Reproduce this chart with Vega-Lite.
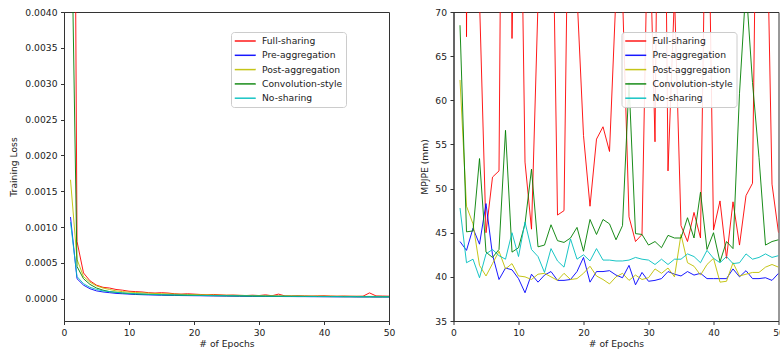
{
"$schema": "https://vega.github.io/schema/vega-lite/v6.json",
"padding": {"left": 9, "top": 7, "right": 0, "bottom": 0},
"spacing": 23.5,
"config": {
  "font": "DejaVu Sans",
  "view": {"stroke": "#333", "strokeWidth": 1},
  "axis": {"grid": false, "labelFont": "DejaVu Sans", "labelFontSize": 9.2, "labelColor": "#222", "titleFont": "DejaVu Sans", "titleFontSize": 9.2, "titleFontWeight": "normal", "titleColor": "#222", "tickSize": 3.5, "tickColor": "#333", "domainColor": "#333", "labelPadding": 3.5, "labelFlush": false, "labelOverlap": false},
  "legend": {"labelFont": "DejaVu Sans", "labelFontSize": 9.2, "labelColor": "#222", "symbolType": "M-1,0H3", "symbolSize": 110, "symbolStrokeWidth": 1.5, "labelOffset": 16, "rowPadding": 2.3, "padding": 3, "fillColor": "rgba(255,255,255,0.88)", "strokeColor": "#cccccc", "cornerRadius": 3}
},
"datasets": {
"loss": [
{"epoch":1,"Full-sharing":0.017,"Pre-aggregation":0.00114,"Post-aggregation":0.00166,"Convolution-style":0.0062,"No-sharing":0.00107},
{"epoch":2,"Full-sharing":0.0008,"Pre-aggregation":0.00028,"Post-aggregation":0.00055,"Convolution-style":0.00045,"No-sharing":0.00031},
{"epoch":3,"Full-sharing":0.00036,"Pre-aggregation":0.00019,"Post-aggregation":0.00031,"Convolution-style":0.00028,"No-sharing":0.00021},
{"epoch":4,"Full-sharing":0.00025,"Pre-aggregation":0.00014,"Post-aggregation":0.00023,"Convolution-style":0.0002,"No-sharing":0.00016},
{"epoch":5,"Full-sharing":0.00019,"Pre-aggregation":0.00011,"Post-aggregation":0.00018,"Convolution-style":0.00015,"No-sharing":0.00013},
{"epoch":6,"Full-sharing":0.00016,"Pre-aggregation":0.000095,"Post-aggregation":0.00015,"Convolution-style":0.00012,"No-sharing":0.00011},
{"epoch":7,"Full-sharing":0.00015,"Pre-aggregation":0.000085,"Post-aggregation":0.00013,"Convolution-style":0.0001,"No-sharing":0.0001},
{"epoch":8,"Full-sharing":0.00013,"Pre-aggregation":0.000075,"Post-aggregation":0.00011,"Convolution-style":0.00009,"No-sharing":0.00009},
{"epoch":9,"Full-sharing":0.00012,"Pre-aggregation":0.00007,"Post-aggregation":0.0001,"Convolution-style":0.00008,"No-sharing":0.000082},
{"epoch":10,"Full-sharing":0.000105,"Pre-aggregation":0.000065,"Post-aggregation":0.000092,"Convolution-style":0.000072,"No-sharing":0.000075},
{"epoch":11,"Full-sharing":0.0001,"Pre-aggregation":0.00006,"Post-aggregation":0.000088,"Convolution-style":0.000068,"No-sharing":0.00007},
{"epoch":12,"Full-sharing":0.000095,"Pre-aggregation":0.000057,"Post-aggregation":0.000082,"Convolution-style":0.000064,"No-sharing":0.000066},
{"epoch":13,"Full-sharing":0.000085,"Pre-aggregation":0.000054,"Post-aggregation":0.000078,"Convolution-style":0.00006,"No-sharing":0.000062},
{"epoch":14,"Full-sharing":0.00008,"Pre-aggregation":0.000052,"Post-aggregation":0.000074,"Convolution-style":0.000058,"No-sharing":0.00006},
{"epoch":15,"Full-sharing":0.000085,"Pre-aggregation":0.00005,"Post-aggregation":0.00007,"Convolution-style":0.000056,"No-sharing":0.000057},
{"epoch":16,"Full-sharing":0.00008,"Pre-aggregation":0.000048,"Post-aggregation":0.000068,"Convolution-style":0.000054,"No-sharing":0.000055},
{"epoch":17,"Full-sharing":0.00007,"Pre-aggregation":0.000047,"Post-aggregation":0.000065,"Convolution-style":0.000052,"No-sharing":0.000053},
{"epoch":18,"Full-sharing":0.000065,"Pre-aggregation":0.000045,"Post-aggregation":0.000062,"Convolution-style":0.00005,"No-sharing":0.000051},
{"epoch":19,"Full-sharing":0.00007,"Pre-aggregation":0.000044,"Post-aggregation":0.00006,"Convolution-style":0.000048,"No-sharing":0.00005},
{"epoch":20,"Full-sharing":0.000065,"Pre-aggregation":0.000043,"Post-aggregation":0.000058,"Convolution-style":0.000047,"No-sharing":0.000048},
{"epoch":21,"Full-sharing":0.00006,"Pre-aggregation":0.000042,"Post-aggregation":0.000056,"Convolution-style":0.000046,"No-sharing":0.000047},
{"epoch":22,"Full-sharing":0.000055,"Pre-aggregation":0.000041,"Post-aggregation":0.000054,"Convolution-style":0.000044,"No-sharing":0.000046},
{"epoch":23,"Full-sharing":0.00006,"Pre-aggregation":0.00004,"Post-aggregation":0.000052,"Convolution-style":0.000043,"No-sharing":0.000045},
{"epoch":24,"Full-sharing":0.000055,"Pre-aggregation":0.000039,"Post-aggregation":0.00005,"Convolution-style":0.000042,"No-sharing":0.000044},
{"epoch":25,"Full-sharing":0.00005,"Pre-aggregation":0.000038,"Post-aggregation":0.000049,"Convolution-style":0.000041,"No-sharing":0.000043},
{"epoch":26,"Full-sharing":0.000052,"Pre-aggregation":0.000037,"Post-aggregation":0.000048,"Convolution-style":0.00004,"No-sharing":0.000042},
{"epoch":27,"Full-sharing":0.000048,"Pre-aggregation":0.000036,"Post-aggregation":0.000047,"Convolution-style":0.000039,"No-sharing":0.000041},
{"epoch":28,"Full-sharing":0.000045,"Pre-aggregation":0.000035,"Post-aggregation":0.000046,"Convolution-style":0.000038,"No-sharing":0.00004},
{"epoch":29,"Full-sharing":0.00005,"Pre-aggregation":0.000034,"Post-aggregation":0.000045,"Convolution-style":0.000037,"No-sharing":0.000039},
{"epoch":30,"Full-sharing":0.000045,"Pre-aggregation":0.000034,"Post-aggregation":0.000044,"Convolution-style":0.000036,"No-sharing":0.000038},
{"epoch":31,"Full-sharing":0.000055,"Pre-aggregation":0.000033,"Post-aggregation":0.000043,"Convolution-style":0.000036,"No-sharing":0.000037},
{"epoch":32,"Full-sharing":0.000042,"Pre-aggregation":0.000032,"Post-aggregation":0.000042,"Convolution-style":0.000035,"No-sharing":0.000036},
{"epoch":33,"Full-sharing":0.000065,"Pre-aggregation":0.000032,"Post-aggregation":0.000041,"Convolution-style":0.000034,"No-sharing":0.000036},
{"epoch":34,"Full-sharing":0.00004,"Pre-aggregation":0.000031,"Post-aggregation":0.00004,"Convolution-style":0.000034,"No-sharing":0.000035},
{"epoch":35,"Full-sharing":0.00004,"Pre-aggregation":0.000031,"Post-aggregation":0.00004,"Convolution-style":0.000033,"No-sharing":0.000034},
{"epoch":36,"Full-sharing":0.000042,"Pre-aggregation":0.00003,"Post-aggregation":0.000039,"Convolution-style":0.000033,"No-sharing":0.000034},
{"epoch":37,"Full-sharing":0.00004,"Pre-aggregation":0.00003,"Post-aggregation":0.000038,"Convolution-style":0.000032,"No-sharing":0.000033},
{"epoch":38,"Full-sharing":0.000038,"Pre-aggregation":0.000029,"Post-aggregation":0.000037,"Convolution-style":0.000032,"No-sharing":0.000033},
{"epoch":39,"Full-sharing":0.00004,"Pre-aggregation":0.000029,"Post-aggregation":0.000037,"Convolution-style":0.000031,"No-sharing":0.000032},
{"epoch":40,"Full-sharing":0.000042,"Pre-aggregation":0.000028,"Post-aggregation":0.000036,"Convolution-style":0.000031,"No-sharing":0.000032},
{"epoch":41,"Full-sharing":0.000038,"Pre-aggregation":0.000028,"Post-aggregation":0.000036,"Convolution-style":0.00003,"No-sharing":0.000031},
{"epoch":42,"Full-sharing":0.000036,"Pre-aggregation":0.000027,"Post-aggregation":0.000035,"Convolution-style":0.00003,"No-sharing":0.000031},
{"epoch":43,"Full-sharing":0.000038,"Pre-aggregation":0.000027,"Post-aggregation":0.000035,"Convolution-style":0.000029,"No-sharing":0.00003},
{"epoch":44,"Full-sharing":0.000036,"Pre-aggregation":0.000027,"Post-aggregation":0.000034,"Convolution-style":0.000029,"No-sharing":0.00003},
{"epoch":45,"Full-sharing":0.000035,"Pre-aggregation":0.000026,"Post-aggregation":0.000034,"Convolution-style":0.000028,"No-sharing":0.00003},
{"epoch":46,"Full-sharing":0.000036,"Pre-aggregation":0.000026,"Post-aggregation":0.000033,"Convolution-style":0.000028,"No-sharing":0.000029},
{"epoch":47,"Full-sharing":0.000082,"Pre-aggregation":0.000026,"Post-aggregation":0.000033,"Convolution-style":0.000028,"No-sharing":0.000029},
{"epoch":48,"Full-sharing":0.00004,"Pre-aggregation":0.000025,"Post-aggregation":0.000033,"Convolution-style":0.000027,"No-sharing":0.000029},
{"epoch":49,"Full-sharing":0.000038,"Pre-aggregation":0.000025,"Post-aggregation":0.000032,"Convolution-style":0.000027,"No-sharing":0.000028},
{"epoch":50,"Full-sharing":0.000036,"Pre-aggregation":0.000025,"Post-aggregation":0.000032,"Convolution-style":0.000027,"No-sharing":0.000028}
],
"mpjpe": [
{"epoch":1,"Full-sharing":400,"Pre-aggregation":44.0,"Post-aggregation":62.3,"Convolution-style":68.5,"No-sharing":47.8},
{"epoch":2,"Full-sharing":67.2,"Pre-aggregation":43.0,"Post-aggregation":48.0,"Convolution-style":45.1,"No-sharing":41.6},
{"epoch":3,"Full-sharing":200,"Pre-aggregation":45.5,"Post-aggregation":46.0,"Convolution-style":45.2,"No-sharing":42.0},
{"epoch":4,"Full-sharing":71.5,"Pre-aggregation":43.7,"Post-aggregation":41.3,"Convolution-style":53.4,"No-sharing":39.9},
{"epoch":5,"Full-sharing":45.0,"Pre-aggregation":48.3,"Post-aggregation":40.1,"Convolution-style":42.8,"No-sharing":42.6},
{"epoch":6,"Full-sharing":51.3,"Pre-aggregation":42.5,"Post-aggregation":41.5,"Convolution-style":42.2,"No-sharing":43.1},
{"epoch":7,"Full-sharing":52.0,"Pre-aggregation":39.7,"Post-aggregation":42.9,"Convolution-style":43.1,"No-sharing":42.4},
{"epoch":8,"Full-sharing":150,"Pre-aggregation":41.0,"Post-aggregation":40.9,"Convolution-style":56.6,"No-sharing":42.0},
{"epoch":9,"Full-sharing":67.0,"Pre-aggregation":40.8,"Post-aggregation":41.5,"Convolution-style":42.8,"No-sharing":45.0},
{"epoch":10,"Full-sharing":105,"Pre-aggregation":39.8,"Post-aggregation":40.1,"Convolution-style":43.3,"No-sharing":42.3},
{"epoch":11,"Full-sharing":53.0,"Pre-aggregation":38.2,"Post-aggregation":40.0,"Convolution-style":46.0,"No-sharing":46.2},
{"epoch":12,"Full-sharing":45.4,"Pre-aggregation":40.3,"Post-aggregation":39.7,"Convolution-style":52.2,"No-sharing":43.1},
{"epoch":13,"Full-sharing":71,"Pre-aggregation":39.4,"Post-aggregation":40.3,"Convolution-style":43.4,"No-sharing":42.3},
{"epoch":14,"Full-sharing":110,"Pre-aggregation":40.2,"Post-aggregation":40.4,"Convolution-style":43.6,"No-sharing":40.5},
{"epoch":15,"Full-sharing":95,"Pre-aggregation":40.6,"Post-aggregation":40.0,"Convolution-style":45.9,"No-sharing":43.2},
{"epoch":16,"Full-sharing":47.0,"Pre-aggregation":39.6,"Post-aggregation":39.6,"Convolution-style":44.1,"No-sharing":41.8},
{"epoch":17,"Full-sharing":47.5,"Pre-aggregation":39.6,"Post-aggregation":40.4,"Convolution-style":43.9,"No-sharing":41.1},
{"epoch":18,"Full-sharing":103,"Pre-aggregation":39.7,"Post-aggregation":39.7,"Convolution-style":44.4,"No-sharing":44.3},
{"epoch":19,"Full-sharing":72,"Pre-aggregation":40.6,"Post-aggregation":39.8,"Convolution-style":45.6,"No-sharing":42.0},
{"epoch":20,"Full-sharing":56,"Pre-aggregation":42.2,"Post-aggregation":40.4,"Convolution-style":42.9,"No-sharing":42.5},
{"epoch":21,"Full-sharing":48.0,"Pre-aggregation":39.4,"Post-aggregation":41.2,"Convolution-style":46.5,"No-sharing":41.8},
{"epoch":22,"Full-sharing":55.6,"Pre-aggregation":40.6,"Post-aggregation":40.1,"Convolution-style":44.8,"No-sharing":43.2},
{"epoch":23,"Full-sharing":57.0,"Pre-aggregation":40.6,"Post-aggregation":39.7,"Convolution-style":46.5,"No-sharing":41.9},
{"epoch":24,"Full-sharing":54.2,"Pre-aggregation":40.7,"Post-aggregation":39.2,"Convolution-style":46.0,"No-sharing":41.9},
{"epoch":25,"Full-sharing":72,"Pre-aggregation":40.2,"Post-aggregation":40.0,"Convolution-style":44.2,"No-sharing":41.8},
{"epoch":26,"Full-sharing":72,"Pre-aggregation":39.9,"Post-aggregation":40.4,"Convolution-style":45.8,"No-sharing":41.8},
{"epoch":27,"Full-sharing":46.8,"Pre-aggregation":41.3,"Post-aggregation":39.6,"Convolution-style":62.0,"No-sharing":41.9},
{"epoch":28,"Full-sharing":44.0,"Pre-aggregation":39.1,"Post-aggregation":40.2,"Convolution-style":44.9,"No-sharing":42.2},
{"epoch":29,"Full-sharing":44.8,"Pre-aggregation":40.5,"Post-aggregation":39.7,"Convolution-style":44.8,"No-sharing":42.0},
{"epoch":30,"Full-sharing":85,"Pre-aggregation":39.5,"Post-aggregation":39.9,"Convolution-style":43.6,"No-sharing":41.9},
{"epoch":31,"Full-sharing":55.3,"Pre-aggregation":39.6,"Post-aggregation":40.9,"Convolution-style":44.0,"No-sharing":41.4},
{"epoch":32,"Full-sharing":130,"Pre-aggregation":39.8,"Post-aggregation":40.4,"Convolution-style":43.3,"No-sharing":42.0},
{"epoch":33,"Full-sharing":52,"Pre-aggregation":40.6,"Post-aggregation":41.0,"Convolution-style":44.7,"No-sharing":41.4},
{"epoch":34,"Full-sharing":72,"Pre-aggregation":40.3,"Post-aggregation":40.0,"Convolution-style":44.4,"No-sharing":42.0},
{"epoch":35,"Full-sharing":45.8,"Pre-aggregation":40.1,"Post-aggregation":44.8,"Convolution-style":44.4,"No-sharing":42.0},
{"epoch":36,"Full-sharing":44.0,"Pre-aggregation":40.6,"Post-aggregation":41.6,"Convolution-style":46.7,"No-sharing":42.6},
{"epoch":37,"Full-sharing":47.3,"Pre-aggregation":40.2,"Post-aggregation":41.2,"Convolution-style":44.4,"No-sharing":42.3},
{"epoch":38,"Full-sharing":44.4,"Pre-aggregation":40.4,"Post-aggregation":40.2,"Convolution-style":49.6,"No-sharing":41.6},
{"epoch":39,"Full-sharing":95,"Pre-aggregation":39.8,"Post-aggregation":41.4,"Convolution-style":43.1,"No-sharing":43.0},
{"epoch":40,"Full-sharing":45.3,"Pre-aggregation":39.8,"Post-aggregation":42.1,"Convolution-style":45.0,"No-sharing":42.1},
{"epoch":41,"Full-sharing":48.6,"Pre-aggregation":39.8,"Post-aggregation":39.4,"Convolution-style":41.7,"No-sharing":41.6},
{"epoch":42,"Full-sharing":42.1,"Pre-aggregation":39.8,"Post-aggregation":39.5,"Convolution-style":44.0,"No-sharing":42.3},
{"epoch":43,"Full-sharing":48.5,"Pre-aggregation":40.9,"Post-aggregation":41.6,"Convolution-style":43.2,"No-sharing":41.5},
{"epoch":44,"Full-sharing":43.6,"Pre-aggregation":40.0,"Post-aggregation":40.1,"Convolution-style":60.8,"No-sharing":41.6},
{"epoch":45,"Full-sharing":49.2,"Pre-aggregation":40.7,"Post-aggregation":40.3,"Convolution-style":73,"No-sharing":42.6},
{"epoch":46,"Full-sharing":50.6,"Pre-aggregation":39.8,"Post-aggregation":40.5,"Convolution-style":62,"No-sharing":42.0},
{"epoch":47,"Full-sharing":110,"Pre-aggregation":39.8,"Post-aggregation":40.5,"Convolution-style":53.5,"No-sharing":42.2},
{"epoch":48,"Full-sharing":90,"Pre-aggregation":39.9,"Post-aggregation":41.1,"Convolution-style":43.6,"No-sharing":42.6},
{"epoch":49,"Full-sharing":50.5,"Pre-aggregation":39.6,"Post-aggregation":41.4,"Convolution-style":44.0,"No-sharing":42.2},
{"epoch":50,"Full-sharing":45.0,"Pre-aggregation":40.4,"Post-aggregation":41.1,"Convolution-style":44.2,"No-sharing":42.4}
]
},
"hconcat": [
{
  "width": 325, "height": 309,
  "data": {"name": "loss"},
  "transform": [{"fold": ["Full-sharing","Pre-aggregation","Post-aggregation","Convolution-style","No-sharing"], "as": ["method","value"]}],
  "mark": {"type": "line", "strokeWidth": 1, "clip": true, "opacity": 0.9},
  "encoding": {
    "x": {"field": "epoch", "type": "quantitative", "scale": {"domain": [0,50], "nice": false}, "axis": {"values": [0,10,20,30,40,50], "title": "# of Epochs", "titlePadding": 2.5}},
    "y": {"field": "value", "type": "quantitative", "scale": {"domain": [-0.00031, 0.004], "nice": false, "zero": false}, "axis": {"values": [0,0.0005,0.001,0.0015,0.002,0.0025,0.003,0.0035,0.004], "format": ".4f", "title": "Training Loss", "titlePadding": 6}},
    "color": {"field": "method", "type": "nominal", "scale": {"domain": ["Full-sharing","Pre-aggregation","Post-aggregation","Convolution-style","No-sharing"], "range": ["#ff0000","#0000ff","#bfbf00","#008000","#00bfbf"]}, "legend": {"title": null, "orient": "none", "legendX": 167, "legendY": 20}}
  }
},
{
  "width": 325, "height": 309,
  "data": {"name": "mpjpe"},
  "transform": [{"fold": ["Full-sharing","Pre-aggregation","Post-aggregation","Convolution-style","No-sharing"], "as": ["method","value"]}],
  "mark": {"type": "line", "strokeWidth": 1, "clip": true, "opacity": 0.9},
  "encoding": {
    "x": {"field": "epoch", "type": "quantitative", "scale": {"domain": [0,50], "nice": false}, "axis": {"values": [0,10,20,30,40,50], "title": "# of Epochs", "titlePadding": 2.5}},
    "y": {"field": "value", "type": "quantitative", "scale": {"domain": [35, 70], "nice": false, "zero": false}, "axis": {"values": [35,40,45,50,55,60,65,70], "title": "MPJPE (mm)", "titlePadding": 5}},
    "color": {"field": "method", "type": "nominal", "scale": {"domain": ["Full-sharing","Pre-aggregation","Post-aggregation","Convolution-style","No-sharing"], "range": ["#ff0000","#0000ff","#bfbf00","#008000","#00bfbf"]}, "legend": {"title": null, "orient": "none", "legendX": 168, "legendY": 20}}
  }
}
],
"resolve": {"scale": {"color": "independent"}, "legend": {"color": "independent"}}
}
